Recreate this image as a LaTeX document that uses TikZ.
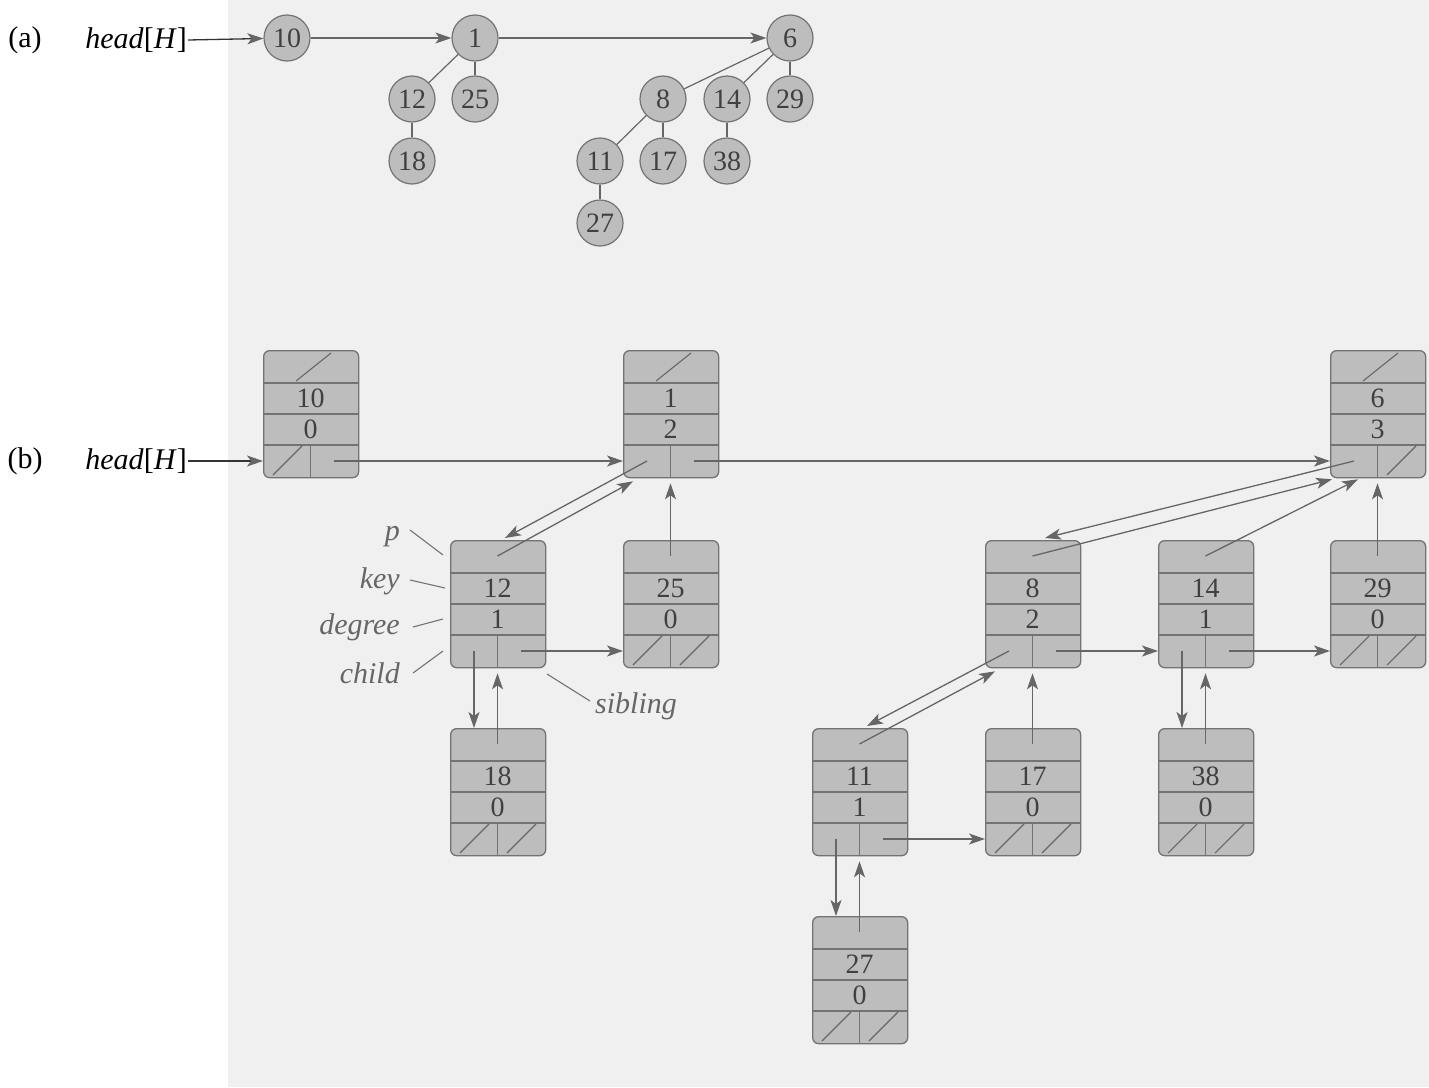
\documentclass[tikz,border=0pt]{standalone}
\usepackage{fontspec}
\setmainfont{Liberation Serif}
\usetikzlibrary{calc,arrows.meta}
\newcommand\digitfont{\fontsize{28}{30}\selectfont}
\newcommand\labfont{\fontsize{30}{34}\selectfont}
\tikzset{
  hbox/.style={draw=black!55, fill=black!26, rounded corners=6pt, line width=1.3pt,
    minimum width=95pt, minimum height=127pt, inner sep=0pt},
  cellline/.style={draw=black!55, line width=1.1pt},
  nilline/.style={draw=black!60, line width=1.1pt},
  ptr/.style={draw=black!60, line width=1.3pt, -{Stealth[length=16pt,width=11pt,inset=4pt]}},
  hptr/.style={draw=black!80, line width=1.3pt, -{Stealth[length=16pt,width=11pt,inset=4pt,color=black!60]}},
  lnk/.style={draw=black!60, line width=1.2pt},
  leader/.style={draw=black!55, line width=1.1pt},
  circ/.style={circle, draw=black!55, fill=black!26, minimum size=46pt, inner sep=0pt,
    line width=1.2pt, font=\digitfont, text=black!75},
  dig/.style={font=\digitfont, text=black!75, inner sep=0pt},
  lbl/.style={font=\labfont\itshape, text=black!60, inner sep=1pt},
  title/.style={font=\labfont, text=black, inner sep=1pt},
}
\newcommand\heapbox[5]{%
  \node[hbox,anchor=north west] (#1) at (#2,#3) {};
  \draw[cellline] ($(#1.north west)+(0,33)$) -- ($(#1.north east)+(0,33)$);
  \draw[cellline] ($(#1.north west)+(0,64)$) -- ($(#1.north east)+(0,64)$);
  \draw[cellline] ($(#1.north west)+(0,95)$) -- ($(#1.north east)+(0,95)$);
  \draw[cellline] ($(#1.north west)+(47.5,95)$) -- ($(#1.south west)+(47.5,0)$);
  \node[dig] (#1-k) at ($(#1.north west)+(47.5,48.5)$) {#4};
  \node[dig] (#1-d) at ($(#1.north west)+(47.5,79.5)$) {#5};
  \coordinate (#1-p) at ($(#1.north west)+(47.5,16)$);
  \coordinate (#1-c) at ($(#1.north west)+(24,111)$);
  \coordinate (#1-s) at ($(#1.north west)+(71,111)$);
}
\newcommand\pnil[1]{\draw[nilline] ($(#1.north west)+(33,31)$) -- ($(#1.north west)+(68,3)$);}
\newcommand\cnil[1]{\draw[nilline] ($(#1.north west)+(10,125)$) -- ($(#1.north west)+(39,96)$);}
\newcommand\snil[1]{\draw[nilline] ($(#1.north west)+(57,125)$) -- ($(#1.north west)+(86,96)$);}
\begin{document}
\begin{tikzpicture}[x=1pt,y=-1pt]
\fill[black!6] (228,0) rectangle (1429,1087);
\useasboundingbox (0,0) rectangle (1429,1087);

% ---------- (a) ----------
\node[title] (la) at (25,40) {(a)};
\node[title,anchor=east] (ha) at (188,40) {\textit{head}[\textit{H}]};
\node[circ] (a10) at (287,38) {10};
\node[circ] (a1) at (475,38) {1};
\node[circ] (a6) at (790,38) {6};
\node[circ] (a12) at (412,99) {12};
\node[circ] (a25) at (475,99) {25};
\node[circ] (a18) at (412,161) {18};
\node[circ] (a8) at (663,99) {8};
\node[circ] (a14) at (727,99) {14};
\node[circ] (a29) at (790,99) {29};
\node[circ] (a11) at (600,161) {11};
\node[circ] (a17) at (663,161) {17};
\node[circ] (a38) at (727,161) {38};
\node[circ] (a27) at (600,223) {27};
\draw[hptr] (ha.east) -- (a10);
\draw[ptr] (a10) -- (a1);
\draw[ptr] (a1) -- (a6);
\draw[lnk] (a1) -- (a12);
\draw[lnk] (a1) -- (a25);
\draw[lnk] (a12) -- (a18);
\draw[lnk] (a6) -- (a8);
\draw[lnk] (a6) -- (a14);
\draw[lnk] (a6) -- (a29);
\draw[lnk] (a8) -- (a11);
\draw[lnk] (a8) -- (a17);
\draw[lnk] (a14) -- (a38);
\draw[lnk] (a11) -- (a27);

% ---------- (b) ----------
\node[title] (lb) at (25,461) {(b)};
\node[title,anchor=east] (hb) at (188,461) {\textit{head}[\textit{H}]};

\heapbox{b10}{263}{350}{10}{0} \pnil{b10} \cnil{b10}
\heapbox{b1}{623}{350}{1}{2} \pnil{b1}
\heapbox{b6}{1330}{350}{6}{3} \pnil{b6} \snil{b6}
\heapbox{b12}{450}{540}{12}{1}
\heapbox{b25}{623}{540}{25}{0} \cnil{b25} \snil{b25}
\heapbox{b8}{985}{540}{8}{2}
\heapbox{b14}{1158}{540}{14}{1}
\heapbox{b29}{1330}{540}{29}{0} \cnil{b29} \snil{b29}
\heapbox{b18}{450}{728}{18}{0} \cnil{b18} \snil{b18}
\heapbox{b11}{812}{728}{11}{1}
\heapbox{b17}{985}{728}{17}{0} \cnil{b17} \snil{b17}
\heapbox{b38}{1158}{728}{38}{0} \cnil{b38} \snil{b38}
\heapbox{b27}{812}{916}{27}{0} \cnil{b27} \snil{b27}

\draw[hptr] (hb.east) -- (hb.east -| b10.west);
\draw[ptr] (b10-s) -- (b10-s -| b1.west);
\draw[ptr] (b1-s) -- (b1-s -| b6.west);
\draw[ptr] (b1-c) -- ($(b12.north west)+(55,-2)$);
\draw[ptr] (b12-p) -- ($(b1.south west)+(10,3)$);
\draw[ptr] (b25-p) -- ($(b25-p |- b1.south)+(0,5)$);
\draw[ptr] (b12-s) -- (b12-s -| b25.west);
\draw[ptr] (b12-c) -- (b12-c |- b18.north);
\draw[ptr] (b18-p) -- ($(b18-p |- b12.south)+(0,5)$);
\draw[ptr] (b6-c) -- ($(b8.north west)+(60,-2)$);
\draw[ptr] (b8-p) -- ($(b6.south west)+(2,1)$);
\draw[ptr] (b14-p) -- ($(b6.south west)+(28,1)$);
\draw[ptr] (b29-p) -- ($(b29-p |- b6.south)+(0,5)$);
\draw[ptr] (b8-s) -- (b8-s -| b14.west);
\draw[ptr] (b14-s) -- (b14-s -| b29.west);
\draw[ptr] (b8-c) -- ($(b11.north west)+(55,-2)$);
\draw[ptr] (b11-p) -- ($(b8.south west)+(10,3)$);
\draw[ptr] (b17-p) -- ($(b17-p |- b8.south)+(0,5)$);
\draw[ptr] (b14-c) -- (b14-c |- b38.north);
\draw[ptr] (b38-p) -- ($(b38-p |- b14.south)+(0,5)$);
\draw[ptr] (b11-s) -- (b11-s -| b17.west);
\draw[ptr] (b11-c) -- (b11-c |- b27.north);
\draw[ptr] (b27-p) -- ($(b27-p |- b11.south)+(0,5)$);

% field labels
\node[lbl,anchor=east] (lp) at (401,537) {p};
\node[lbl,anchor=east] (lk) at (401,581) {key};
\node[lbl,anchor=east] (ld) at (401,627) {degree};
\node[lbl,anchor=east] (lc) at (401,673) {child};
\node[lbl,anchor=west] (ls) at (594,706) {sibling};
\coordinate (lp1) at (410,530); \coordinate (lp2) at (443,555);
\coordinate (lk1) at (410,580); \coordinate (lk2) at (445,588);
\coordinate (ld1) at (413,627); \coordinate (ld2) at (443,619);
\coordinate (lc1) at (413,673); \coordinate (lc2) at (443,651);
\coordinate (ls1) at (547,674); \coordinate (ls2) at (590,701);
\draw[leader] (lp1) -- (lp2);
\draw[leader] (lk1) -- (lk2);
\draw[leader] (ld1) -- (ld2);
\draw[leader] (lc1) -- (lc2);
\draw[leader] (ls1) -- (ls2);
\end{tikzpicture}
\end{document}
